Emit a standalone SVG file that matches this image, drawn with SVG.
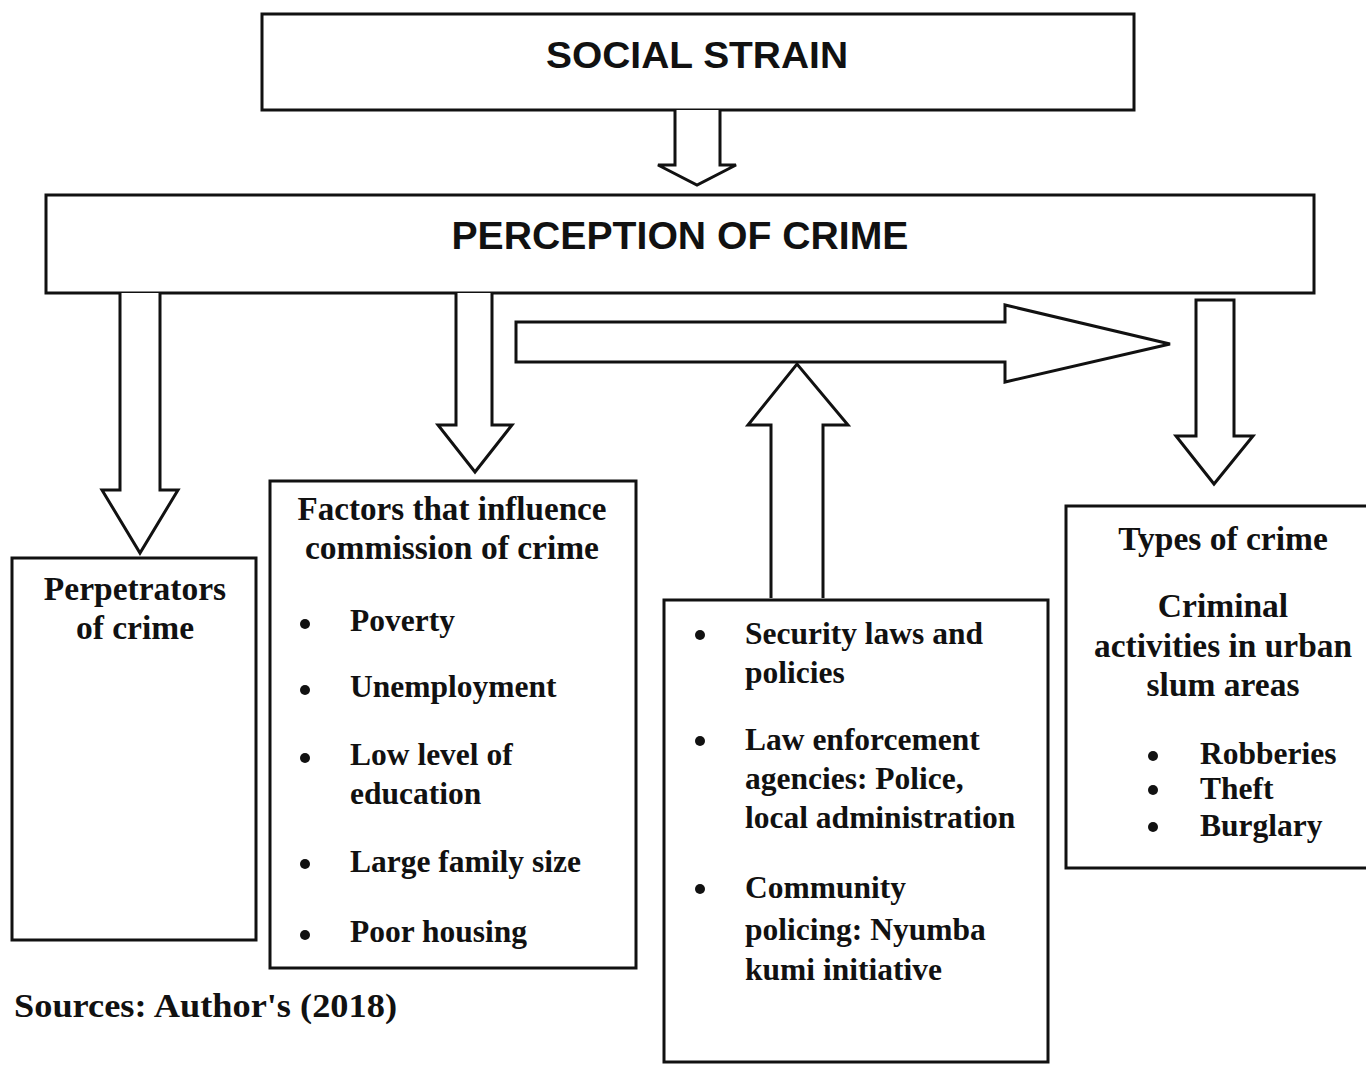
<svg xmlns="http://www.w3.org/2000/svg" width="1366" height="1066" viewBox="0 0 1366 1066">
<style>
.box{fill:#fff;stroke:#111;stroke-width:3}
.arr{fill:#fff;stroke:#111;stroke-width:3;stroke-linejoin:miter}
.h{font-family:"Liberation Sans",Arial,sans-serif;font-weight:bold;fill:#111}
.t{font-family:"Liberation Serif","Times New Roman",serif;font-weight:bold;font-size:31.5px;fill:#111}
.hd{font-size:33.5px}
.c{text-anchor:middle}
</style>
<rect width="1366" height="1066" fill="#fff"/>
<g id="social-strain">
<rect class="box" x="262" y="14" width="872" height="96"/>
<text class="h c" x="697" y="68" font-size="36" textLength="302" lengthAdjust="spacingAndGlyphs">SOCIAL STRAIN</text>
</g>
<g id="perception">
<rect class="box" x="46" y="195" width="1268" height="98"/>
<text class="h c" x="680" y="249" font-size="38" textLength="457" lengthAdjust="spacingAndGlyphs">PERCEPTION OF CRIME</text>
</g>
<g id="perpetrators">
<rect class="box" x="12" y="558" width="244" height="382"/>
<text class="t hd c" x="135" y="600">Perpetrators</text>
<text class="t hd c" x="135" y="639">of crime</text>
</g>
<g id="factors">
<rect class="box" x="270" y="481" width="366" height="487"/>
<text class="t hd c" x="452" y="520" textLength="309" lengthAdjust="spacingAndGlyphs">Factors that influence</text>
<text class="t hd c" x="452" y="559">commission of crime</text>
<g class="t">
<circle cx="305" cy="624" r="5"/><text x="350" y="631">Poverty</text>
<circle cx="305" cy="690" r="5"/><text x="350" y="697">Unemployment</text>
<circle cx="305" cy="758" r="5"/><text x="350" y="765">Low level of</text>
<text x="350" y="804">education</text>
<circle cx="305" cy="864" r="5"/><text x="350" y="872">Large family size</text>
<circle cx="305" cy="935" r="5"/><text x="350" y="942">Poor housing</text>
</g>
</g>
<g id="security">
<rect class="box" x="664" y="600" width="384" height="462"/>
<g class="t">
<circle cx="700" cy="635" r="5"/><text x="745" y="644">Security laws and</text>
<text x="745" y="683">policies</text>
<circle cx="700" cy="741" r="5"/><text x="745" y="750">Law enforcement</text>
<text x="745" y="789">agencies: Police,</text>
<text x="745" y="828">local administration</text>
<circle cx="700" cy="889" r="5"/><text x="745" y="898">Community</text>
<text x="745" y="940">policing: Nyumba</text>
<text x="745" y="980">kumi initiative</text>
</g>
</g>
<g id="types">
<rect class="box" x="1066" y="506" width="310" height="362"/>
<text class="t hd c" x="1223" y="550">Types of crime</text>
<text class="t hd c" x="1223" y="617">Criminal</text>
<text class="t hd c" x="1223" y="657" textLength="258" lengthAdjust="spacingAndGlyphs">activities in urban</text>
<text class="t hd c" x="1223" y="696">slum areas</text>
<g class="t">
<circle cx="1153" cy="756" r="5"/><text x="1200" y="764">Robberies</text>
<circle cx="1153" cy="790" r="5"/><text x="1200" y="799">Theft</text>
<circle cx="1153" cy="827" r="5"/><text x="1200" y="836">Burglary</text>
</g>
</g>
<g id="connectors">
<path class="arr" d="M675 110 V165 H658 L697 185 L736 165 H720 V110"/>
<path class="arr" d="M120 293 V490 H102 L140 553 L178 490 H160 V293"/>
<path class="arr" d="M456 293 V425 H438 L475 472 L512 425 H492 V293"/>
<path class="arr" d="M516 322 H1005 V305 L1170 344 L1005 382 V362 H516 Z"/>
<path class="arr" d="M771 598 V425 H748 L797 364 L848 425 H823 V598"/>
<path class="arr" d="M1196 300 H1234 V436 H1253 L1214 484 L1176 436 H1196 Z"/>
</g>
<text class="t hd" x="14" y="1017" textLength="383" lengthAdjust="spacingAndGlyphs">Sources: Author's (2018)</text>
</svg>
